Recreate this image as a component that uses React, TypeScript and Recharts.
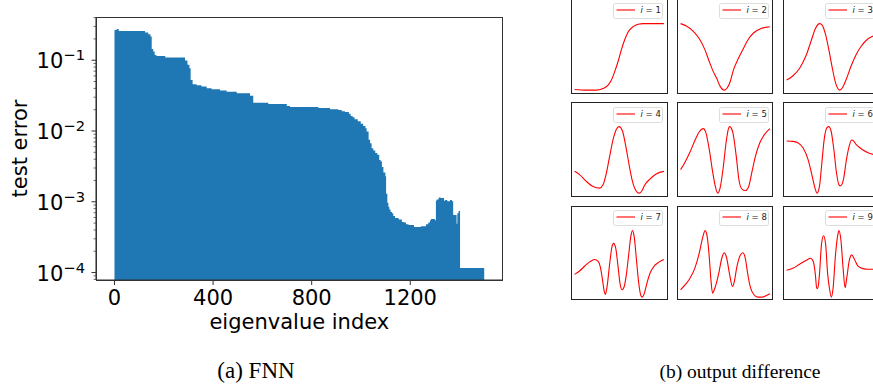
import React from 'react';
import { AreaChart, Area, XAxis, YAxis, LineChart, Line } from 'recharts';

// ---------- left panel data: test error vs eigenvalue index (step breakpoints) ----------
const errIndex = [0, 9, 17, 124, 137, 146, 151, 157, 163, 170, 206, 286, 296, 304, 309, 317, 333, 353, 374, 394, 428, 455, 496, 550, 563, 624, 699, 712, 827, 874, 908, 922, 935, 951, 958, 966, 974, 987, 999, 1009, 1018, 1023, 1031, 1037, 1043, 1050, 1058, 1066, 1074, 1080, 1085, 1091, 1099, 1102, 1107, 1111, 1115, 1120, 1126, 1131, 1138, 1153, 1166, 1174, 1183, 1193, 1215, 1243, 1264, 1273, 1280, 1284, 1300, 1304, 1307, 1315, 1323, 1337, 1342, 1350, 1361, 1369, 1374, 1388, 1391, 1396, 1402, 1500];
const errValue = [0.268, 0.277, 0.259, 0.246, 0.233, 0.216, 0.1436, 0.1325, 0.1188, 0.115, 0.109, 0.099, 0.086, 0.077, 0.0527, 0.0458, 0.0443, 0.0424, 0.0402, 0.0389, 0.0372, 0.036, 0.0341, 0.0316, 0.0251, 0.0241, 0.0226, 0.0219, 0.0212, 0.0203, 0.0198, 0.019, 0.0186, 0.0175, 0.0163, 0.0156, 0.0146, 0.0137, 0.0127, 0.0118, 0.0109, 0.0098, 0.0075, 0.0067, 0.0057, 0.0053, 0.0049, 0.0046, 0.0039, 0.0037, 0.0031, 0.0026, 0.0023, 0.0013, 0.00097, 0.00085, 0.00078, 0.00072, 0.00069, 0.00063, 0.00059, 0.00056, 0.00052, 0.00051, 0.00048, 0.00047, 0.00044, 0.00045, 0.00048, 0.00051, 0.00055, 0.00057, 0.00055, 0.00103, 0.00108, 0.00115, 0.00113, 0.00103, 0.00106, 0.00102, 0.00106, 0.00102, 0.00065, 0.00049, 0.00069, 0.00074, 0.000116, 0.000116];

const xDomain = [-75, 1575];
const xTicks = [0, 400, 800, 1200];
const yDomain = [7.85e-5, 0.408];
const yMajorTicks = [1e-4, 1e-3, 1e-2, 1e-1];
const yAllTicks = [8e-5, 9e-5, 1e-4, 2e-4, 3e-4, 4e-4, 5e-4, 6e-4, 7e-4, 8e-4, 9e-4, 1e-3, 2e-3, 3e-3, 4e-3, 5e-3, 6e-3, 7e-3, 8e-3, 9e-3, 1e-2, 2e-2, 3e-2, 4e-2, 5e-2, 6e-2, 7e-2, 8e-2, 9e-2, 1e-1, 2e-1, 3e-1, 4e-1];

// ---------- right panel data: output difference curves (normalized) ----------
const modeLabels = ['1', '2', '3', '4', '5', '6', '7', '8', '9'];
const mode1: [number, number][] = [[0, 0.01], [0.131, 0], [0.243, 0], [0.318, 0.025], [0.375, 0.076], [0.412, 0.152], [0.449, 0.279], [0.487, 0.431], [0.524, 0.609], [0.562, 0.761], [0.599, 0.873], [0.655, 0.954], [0.712, 0.99], [0.768, 1], [0.88, 1], [1, 1]];
const mode2: [number, number][] = [[0, 1], [0.064, 0.964], [0.14, 0.888], [0.215, 0.761], [0.272, 0.609], [0.321, 0.431], [0.366, 0.279], [0.404, 0.178], [0.442, 0.061], [0.487, 0], [0.517, 0.025], [0.555, 0.127], [0.592, 0.305], [0.649, 0.482], [0.706, 0.635], [0.762, 0.772], [0.819, 0.863], [0.894, 0.924], [1, 0.954]];
const mode3: [number, number][] = [[0, 0.152], [0.069, 0.213], [0.146, 0.33], [0.222, 0.533], [0.28, 0.761], [0.322, 0.924], [0.37, 1], [0.4, 0.975], [0.436, 0.838], [0.473, 0.609], [0.512, 0.33], [0.55, 0.102], [0.596, 0], [0.627, 0.041], [0.665, 0.152], [0.72, 0.355], [0.778, 0.533], [0.835, 0.66], [0.912, 0.772], [0.985, 0.822], [1, 0.83]];
const mode4: [number, number][] = [[0, 0.328], [0.056, 0.278], [0.131, 0.177], [0.206, 0.101], [0.281, 0.076], [0.318, 0.126], [0.356, 0.303], [0.393, 0.556], [0.431, 0.808], [0.468, 0.96], [0.498, 1], [0.536, 0.934], [0.573, 0.707], [0.61, 0.429], [0.648, 0.177], [0.693, 0.025], [0.719, 0], [0.749, 0.025], [0.787, 0.126], [0.843, 0.212], [0.918, 0.293], [1, 0.328]];
const mode5: [number, number][] = [[0, 0.354], [0.045, 0.455], [0.102, 0.606], [0.158, 0.783], [0.208, 0.919], [0.253, 0.97], [0.283, 0.909], [0.321, 0.657], [0.358, 0.328], [0.389, 0.101], [0.415, 0], [0.442, 0.076], [0.479, 0.404], [0.509, 0.758], [0.536, 0.97], [0.551, 1], [0.585, 0.909], [0.623, 0.556], [0.653, 0.202], [0.687, 0.061], [0.725, 0.04], [0.762, 0.101], [0.8, 0.328], [0.838, 0.556], [0.887, 0.758], [0.94, 0.884], [1, 0.97]];
const mode6: [number, number][] = [[0, 0.783], [0.069, 0.778], [0.126, 0.758], [0.184, 0.682], [0.241, 0.505], [0.287, 0.253], [0.318, 0.076], [0.341, 0], [0.368, 0.101], [0.395, 0.455], [0.421, 0.808], [0.452, 0.985], [0.471, 1], [0.498, 0.934], [0.529, 0.657], [0.559, 0.303], [0.586, 0.126], [0.605, 0.111], [0.636, 0.202], [0.67, 0.505], [0.701, 0.707], [0.728, 0.798], [0.751, 0.783], [0.778, 0.732], [0.835, 0.667], [0.912, 0.606], [0.985, 0.576], [1, 0.57]];
const mode7: [number, number][] = [[0, 0.343], [0.056, 0.394], [0.112, 0.465], [0.169, 0.53], [0.225, 0.566], [0.262, 0.54], [0.288, 0.455], [0.311, 0.278], [0.33, 0.101], [0.345, 0.04], [0.363, 0.152], [0.393, 0.505], [0.419, 0.758], [0.438, 0.808], [0.461, 0.732], [0.487, 0.455], [0.509, 0.202], [0.532, 0.111], [0.554, 0.152], [0.581, 0.354], [0.607, 0.657], [0.629, 0.909], [0.648, 1], [0.667, 0.909], [0.693, 0.556], [0.719, 0.202], [0.742, 0.025], [0.757, 0], [0.779, 0.051], [0.813, 0.227], [0.85, 0.379], [0.899, 0.48], [0.948, 0.53], [1, 0.566]];
const mode8: [number, number][] = [[0, 0.111], [0.045, 0.177], [0.102, 0.278], [0.158, 0.429], [0.208, 0.657], [0.245, 0.884], [0.275, 1], [0.298, 0.909], [0.321, 0.606], [0.34, 0.253], [0.358, 0.061], [0.377, 0.111], [0.404, 0.227], [0.434, 0.404], [0.46, 0.581], [0.491, 0.667], [0.517, 0.581], [0.547, 0.354], [0.581, 0.162], [0.6, 0.227], [0.63, 0.455], [0.668, 0.631], [0.698, 0.667], [0.725, 0.581], [0.751, 0.354], [0.781, 0.152], [0.819, 0.04], [0.864, 0], [0.913, 0], [0.962, 0.025], [1, 0.051]];
const mode9: [number, number][] = [[0, 0.404], [0.069, 0.434], [0.146, 0.495], [0.222, 0.556], [0.268, 0.586], [0.299, 0.535], [0.322, 0.343], [0.337, 0.141], [0.349, 0.131], [0.368, 0.343], [0.391, 0.798], [0.414, 0.924], [0.437, 0.798], [0.46, 0.343], [0.479, 0.141], [0.502, 0], [0.521, 0.141], [0.548, 0.646], [0.575, 0.949], [0.586, 1], [0.609, 0.848], [0.632, 0.444], [0.655, 0.141], [0.674, 0.293], [0.701, 0.545], [0.728, 0.636], [0.759, 0.571], [0.797, 0.47], [0.854, 0.429], [0.912, 0.419], [1, 0.419]];
const modes = [mode1, mode2, mode3, mode4, mode5, mode6, mode7, mode8, mode9];

const errData = errIndex.map((idx, i) => ({ idx, err: errValue[i] }));

const AXIS = '#333';
const SANS = 'DejaVu Sans, sans-serif';
const SERIF = 'Liberation Serif, Times New Roman, serif';

function YTick(props: any) {
  const { x, y, payload } = props;
  const v = payload.value;
  const major = yMajorTicks.includes(v);
  const len = major ? 4.5 : 2.5;
  const exp = Math.round(Math.log10(v));
  return (
    <g>
      <line x1={x - len} x2={x} y1={y} y2={y} stroke={AXIS} strokeWidth={major ? 1 : 0.7} />
      {major && (
        <text x={x - 11} y={y + 8} textAnchor="end" fontFamily={SANS} fill="#000">
          <tspan fontSize={21}>10</tspan>
          <tspan fontSize={14.7} dy={-7.8}>{'\u2212' + String(-exp)}</tspan>
        </text>
      )}
    </g>
  );
}

function XLabel(props: any) {
  const vb = props.viewBox;
  return (
    <text x={vb.x + vb.width / 2} y={vb.y + 49} textAnchor="middle" fontFamily={SANS} fontSize={21} fill="#000">
      eigenvalue index
    </text>
  );
}

function YLabel(props: any) {
  const vb = props.viewBox;
  const cx = vb.x + 26.5;
  const cy = vb.y + vb.height / 2;
  return (
    <text x={cx} y={cy} transform={`rotate(-90 ${cx} ${cy})`} textAnchor="middle" fontFamily={SANS} fontSize={21} fill="#000">
      test error
    </text>
  );
}

const colLeft = [571.2, 676.8, 782.5];
const rowTop = [-0.8, 102.4, 205.5];
const CELL_W = 96.5;
const CELL_H = 94.5;

function ModeCell({ data, label, left, top }: { data: [number, number][]; label: string; left: number; top: number }) {
  const rows = data.map(([x, y]) => ({ x, y }));
  return (
    <div style={{ position: 'absolute', left, top, width: CELL_W, height: CELL_H }}>
      <LineChart width={CELL_W} height={CELL_H} data={rows} margin={{ top: 0, right: 0, bottom: 0, left: 0 }}>
        <XAxis dataKey="x" type="number" domain={[-0.04, 1.04]} hide allowDataOverflow />
        <YAxis type="number" domain={[-0.05, 1.37]} hide allowDataOverflow />
        <Line dataKey="y" type="monotone" stroke="#ff0000" strokeWidth={1.1} dot={false} isAnimationActive={false} />
      </LineChart>
      <div style={{ position: 'absolute', left: 0, top: 0, width: CELL_W, height: CELL_H, border: '1px solid #222', boxSizing: 'border-box', pointerEvents: 'none' }} />
      <svg width={50} height={16} style={{ position: 'absolute', left: 42.2, top: 4.2, overflow: 'visible' }}>
        <rect x={0.5} y={0.5} width={49} height={15} rx={2} ry={2} fill="rgba(255,255,255,0.8)" stroke="#d4d4d4" strokeWidth={0.8} />
        <line x1={3.5} x2={22} y1={7} y2={7} stroke="#ff0000" strokeWidth={1.1} />
        <text x={27.5} y={10.4} fontFamily={SANS} fontSize={8.5} fill="#222">
          <tspan fontStyle="italic">i</tspan>
          <tspan> = {label}</tspan>
        </text>
      </svg>
    </div>
  );
}

export default function App() {
  return (
    <div style={{ position: 'absolute', left: 0, top: 0, width: 873, height: 385, overflow: 'hidden', background: '#fff' }}>
      <div style={{ position: 'absolute', left: 0, top: 0 }}>
        <AreaChart width={540} height={345} data={errData} margin={{ top: 17, right: 37.3, bottom: 10, left: 0 }}>
          <XAxis
            dataKey="idx"
            type="number"
            domain={xDomain}
            allowDataOverflow
            ticks={xTicks}
            interval={0}
            tickSize={5}
            tickMargin={5}
            tick={{ fill: '#000', fontSize: 21, fontFamily: SANS }}
            axisLine={{ stroke: AXIS, strokeWidth: 1.1 }}
            tickLine={{ stroke: AXIS }}
            height={55}
            label={{ content: XLabel } as any}
          />
          <YAxis
            type="number"
            scale="log"
            domain={yDomain}
            allowDataOverflow
            ticks={yAllTicks}
            interval={0}
            tick={(p: any) => <YTick {...p} />}
            tickSize={0}
            tickMargin={0}
            tickLine={false}
            axisLine={{ stroke: AXIS, strokeWidth: 1.1 }}
            width={96}
            label={{ content: YLabel } as any}
          />
          <Area dataKey="err" type="stepAfter" fill="#1f77b4" fillOpacity={1} stroke="none" baseValue={yDomain[0]} isAnimationActive={false} />
        </AreaChart>
        {/* plot frame (top and right spines) */}
        <div style={{ position: 'absolute', left: 95.5, top: 16.5, width: 407.7, height: 264, border: '1.1px solid #333', boxSizing: 'border-box', pointerEvents: 'none' }} />
      </div>
      {modes.map((m, i) => (
        <ModeCell key={i} data={m} label={modeLabels[i]} left={colLeft[i % 3]} top={rowTop[Math.floor(i / 3)]} />
      ))}
      <svg width={873} height={385} style={{ position: 'absolute', left: 0, top: 0, pointerEvents: 'none' }}>
        <text x={256} y={378} textAnchor="middle" fontFamily={SERIF} fontSize={23} fill="#000">(a) FNN</text>
        <text x={740} y={377.5} textAnchor="middle" fontFamily={SERIF} fontSize={19.5} fill="#000">(b) output difference</text>
      </svg>
    </div>
  );
}
